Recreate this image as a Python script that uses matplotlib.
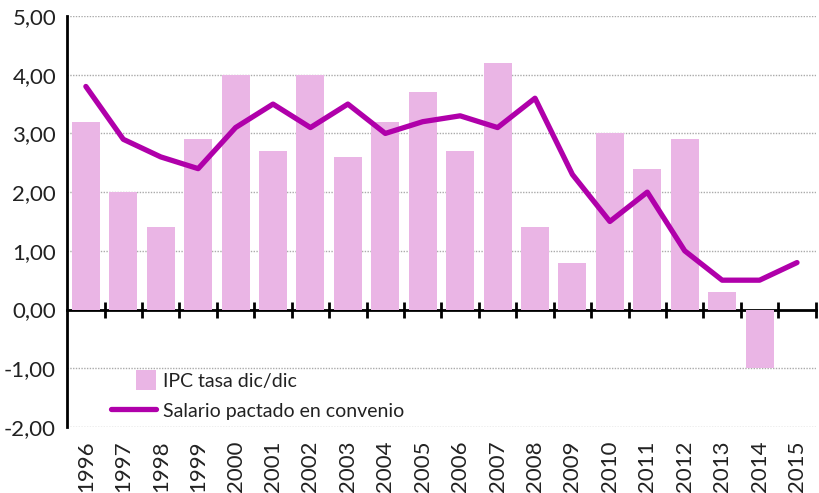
import matplotlib
matplotlib.use("Agg")
import matplotlib.pyplot as plt
import matplotlib.patches as mpatches
from matplotlib.legend_handler import HandlerPatch
from matplotlib.ticker import FuncFormatter
import numpy as np

years = [str(y) for y in range(1996, 2016)]
ipc = [3.2, 2.0, 1.4, 2.9, 4.0, 2.7, 4.0, 2.6, 3.2, 3.7,
       2.7, 4.2, 1.4, 0.8, 3.0, 2.4, 2.9, 0.3, -1.0, 0.0]
salario = [3.8, 2.9, 2.6, 2.4, 3.1, 3.5, 3.1, 3.5, 3.0, 3.2,
           3.3, 3.1, 3.6, 2.3, 1.5, 2.0, 1.0, 0.5, 0.5, 0.8]

plt.rcParams['font.family'] = ['Lato', 'DejaVu Sans']


def square_patch(legend, orig_handle, xdescent, ydescent, width, height, fontsize):
    # small square sitting at the right end of the handle box
    side = height * 1.1
    return mpatches.Rectangle((width - side - xdescent, -ydescent - 0.05 * height), side, side)


fig = plt.figure(figsize=(8.19, 4.93), dpi=100)
ax = fig.add_axes([0.082, 0.134, 0.914, 0.8335])

x = np.arange(len(years))
bars = ax.bar(x, ipc, width=0.75, color='#EAB5E5', label='IPC tasa dic/dic', zorder=2)
line, = ax.plot(x, salario, color='#B000AA', lw=3.8, solid_capstyle='round',
                label='Salario pactado en convenio', zorder=3)

ax.set_xlim(-0.5, len(years) - 0.5)
ax.set_ylim(-2, 5)
ax.set_yticks(np.arange(-2, 6, 1))
ax.yaxis.set_major_formatter(FuncFormatter(lambda v, p: f"{v:.2f}".replace('.', ',')))
ax.tick_params(axis='y', length=0, labelsize=16, pad=8, colors='#222222')
for v in [-2, -1, 1, 2, 3, 4, 5]:
    ax.axhline(v, color='#aaaaaa', lw=1, ls=(0, (1, 1)), zorder=1)

ax.set_xticks(x)
ax.set_xticklabels(years, rotation=90, fontsize=16, color='#222222')
ax.tick_params(axis='x', length=0, pad=10)

for s in ['top', 'right', 'bottom']:
    ax.spines[s].set_visible(False)
ax.spines['left'].set_linewidth(2)
ax.spines['left'].set_color('black')

# zero line with tick marks between categories
zero_ax = ax.secondary_xaxis(2 / 7)
zero_ax.set_xticks(np.arange(0.5, len(years) - 0.4, 1))
zero_ax.set_xticklabels([])
zero_ax.tick_params(direction='inout', length=12, width=2, color='black')
zero_ax.spines['bottom'].set_linewidth(2)
zero_ax.spines['bottom'].set_zorder(5)

bar_handle = bars.patches[0]
ax.legend([bar_handle, line], ['IPC tasa dic/dic', 'Salario pactado en convenio'],
          loc='lower left', bbox_to_anchor=(0.035, -0.025),
          frameon=False, fontsize=14, handlelength=2.3, handleheight=1.0,
          labelspacing=0.6, handletextpad=0.4, labelcolor='#222222',
          handler_map={bar_handle: HandlerPatch(patch_func=square_patch)})

fig.savefig('out.png', dpi=100)
